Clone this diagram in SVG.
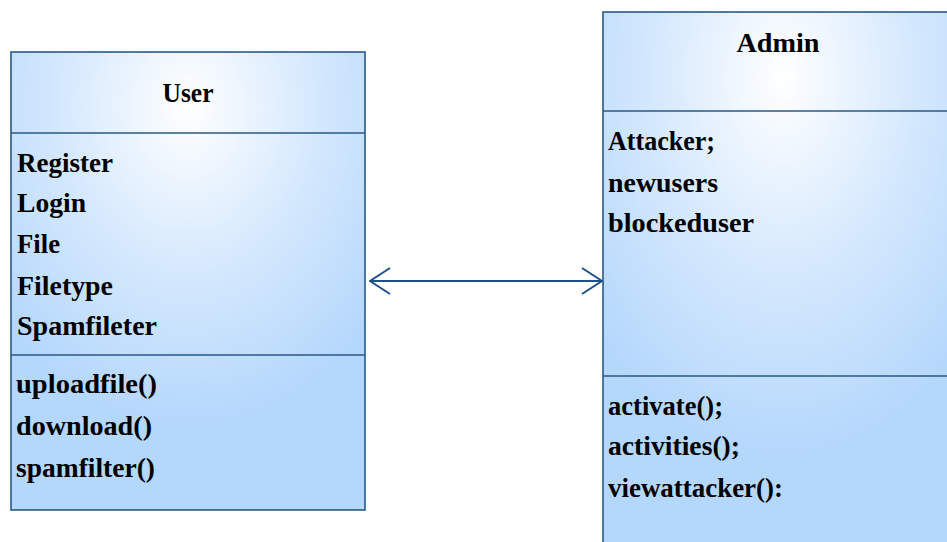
<svg xmlns="http://www.w3.org/2000/svg" width="947" height="542" viewBox="0 0 947 542">
  <style>
    .box { stroke: #2b5787; stroke-width: 1.6; }
    .div { stroke: #2b5787; stroke-width: 1.6; fill: none; }
    .t { font-family: 'Liberation Serif', 'DejaVu Serif', serif; font-weight: bold; font-size: 27px; fill: #000; }
    .title { text-anchor: middle; }
    .conn { stroke: #1f4f88; stroke-width: 2; fill: none; }
  </style>
  <defs>
    <radialGradient id="classFill" cx="0.5" cy="0.12" r="0.7" fx="0.5" fy="0.12">
      <stop offset="0" stop-color="#ffffff"/>
      <stop offset="0.5" stop-color="#d6e9fd"/>
      <stop offset="1" stop-color="#b4d7fc"/>
    </radialGradient>
    <!-- open chevron head, tip on the line end -->
    <marker id="openHead" viewBox="0 0 24 30" refX="23" refY="15" markerWidth="24" markerHeight="30" markerUnits="userSpaceOnUse" orient="auto-start-reverse">
      <path d="M3 2 L23 15 L3 28" fill="none" stroke="#1f4f88" stroke-width="2"/>
    </marker>
  </defs>

  <g id="user">
    <rect class="box" x="11" y="52" width="354" height="458" fill="url(#classFill)"/>
    <line class="div" x1="11" y1="133" x2="365" y2="133"/>
    <line class="div" x1="11" y1="355" x2="365" y2="355"/>
    <text class="t title" x="188" y="102" textLength="51" lengthAdjust="spacingAndGlyphs">User</text>
    <text class="t" x="17" y="172" textLength="96" lengthAdjust="spacingAndGlyphs">Register</text>
    <text class="t" x="17" y="212" textLength="69" lengthAdjust="spacingAndGlyphs">Login</text>
    <text class="t" x="17" y="253" textLength="43" lengthAdjust="spacingAndGlyphs">File</text>
    <text class="t" x="17" y="295" textLength="96" lengthAdjust="spacingAndGlyphs">Filetype</text>
    <text class="t" x="17" y="335" textLength="140" lengthAdjust="spacingAndGlyphs">Spamfileter</text>
    <text class="t" x="16" y="393" textLength="141" lengthAdjust="spacingAndGlyphs">uploadfile()</text>
    <text class="t" x="16" y="435" textLength="136" lengthAdjust="spacingAndGlyphs">download()</text>
    <text class="t" x="16" y="477" textLength="139" lengthAdjust="spacingAndGlyphs">spamfilter()</text>
  </g>

  <g id="admin">
    <rect class="box" x="603" y="12" width="360" height="545" fill="url(#classFill)"/>
    <line class="div" x1="603" y1="111" x2="947" y2="111"/>
    <line class="div" x1="603" y1="376" x2="947" y2="376"/>
    <text class="t title" x="778" y="52" textLength="83" lengthAdjust="spacingAndGlyphs">Admin</text>
    <text class="t" x="608" y="150" textLength="107" lengthAdjust="spacingAndGlyphs">Attacker;</text>
    <text class="t" x="608" y="192" textLength="110" lengthAdjust="spacingAndGlyphs">newusers</text>
    <text class="t" x="608" y="232" textLength="146" lengthAdjust="spacingAndGlyphs">blockeduser</text>
    <text class="t" x="608" y="415" textLength="115" lengthAdjust="spacingAndGlyphs">activate();</text>
    <text class="t" x="608" y="455" textLength="132" lengthAdjust="spacingAndGlyphs">activities();</text>
    <text class="t" x="608" y="497" textLength="175" lengthAdjust="spacingAndGlyphs">viewattacker():</text>
  </g>

  <g id="connectors">
    <line class="conn" x1="370" y1="281" x2="602" y2="281" marker-start="url(#openHead)" marker-end="url(#openHead)"/>
  </g>
</svg>
